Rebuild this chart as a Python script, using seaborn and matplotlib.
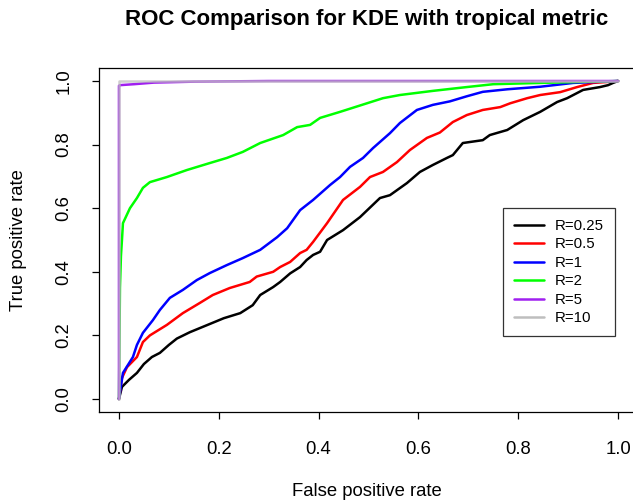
import numpy as np
import pandas as pd
import matplotlib
matplotlib.use("Agg")
import matplotlib.pyplot as plt
from matplotlib.lines import Line2D
import seaborn as sns

# ROC curves (false positive rate, true positive rate) for each bandwidth R
labels = ["R=0.25", "R=0.5", "R=1", "R=2", "R=5", "R=10"]
colors = ["#000000", "#FF0000", "#0000FF", "#00FF00", "#A020F0", "#BEBEBE"]

fpr_025 = [0.0, 0.006, 0.02, 0.036, 0.05, 0.066, 0.082, 0.1, 0.116, 0.142, 0.176, 0.21,
           0.243, 0.268, 0.283, 0.309, 0.323, 0.343, 0.363, 0.376, 0.389, 0.403, 0.417,
           0.449, 0.483, 0.523, 0.543, 0.577, 0.603, 0.629, 0.657, 0.669, 0.689, 0.729,
           0.743, 0.778, 0.81, 0.844, 0.878, 0.898, 0.93, 0.964, 0.98, 0.99, 1.0]
tpr_025 = [0.0, 0.038, 0.06, 0.082, 0.11, 0.132, 0.145, 0.17, 0.19, 0.21, 0.232, 0.254,
           0.27, 0.295, 0.327, 0.352, 0.368, 0.395, 0.415, 0.437, 0.453, 0.463, 0.5,
           0.531, 0.572, 0.632, 0.641, 0.679, 0.714, 0.736, 0.758, 0.767, 0.805, 0.814,
           0.83, 0.846, 0.877, 0.903, 0.934, 0.946, 0.972, 0.981, 0.987, 0.994, 1.0]

fpr_05 = [0.0, 0.006, 0.016, 0.036, 0.048, 0.062, 0.096, 0.128, 0.162, 0.188, 0.222,
          0.262, 0.276, 0.309, 0.323, 0.343, 0.363, 0.376, 0.389, 0.417, 0.449, 0.483,
          0.503, 0.529, 0.557, 0.583, 0.617, 0.643, 0.669, 0.697, 0.729, 0.764, 0.784,
          0.818, 0.844, 0.884, 0.918, 0.95, 0.978, 1.0]
tpr_05 = [0.0, 0.066, 0.1, 0.132, 0.179, 0.2, 0.233, 0.27, 0.302, 0.327, 0.349,
          0.368, 0.385, 0.4, 0.415, 0.431, 0.459, 0.469, 0.494, 0.553, 0.626, 0.667,
          0.698, 0.714, 0.745, 0.783, 0.821, 0.838, 0.871, 0.893, 0.909, 0.918, 0.93,
          0.946, 0.956, 0.965, 0.981, 0.994, 0.997, 1.0]

fpr_1 = [0.0, 0.008, 0.028, 0.036, 0.048, 0.068, 0.082, 0.102, 0.128, 0.156, 0.182,
         0.216, 0.248, 0.283, 0.317, 0.337, 0.363, 0.389, 0.423, 0.443, 0.463, 0.489,
         0.509, 0.543, 0.563, 0.597, 0.629, 0.663, 0.697, 0.729, 0.778, 0.844, 0.91, 1.0]
tpr_1 = [0.0, 0.082, 0.132, 0.17, 0.208, 0.248, 0.28, 0.318, 0.343, 0.374, 0.396,
         0.421, 0.443, 0.469, 0.509, 0.537, 0.594, 0.626, 0.673, 0.698, 0.73, 0.758,
         0.789, 0.836, 0.868, 0.909, 0.925, 0.936, 0.952, 0.966, 0.974, 0.982, 0.994, 1.0]

fpr_2 = [0.0, 0.002, 0.004, 0.006, 0.008, 0.022, 0.036, 0.048, 0.062, 0.096, 0.136,
         0.182, 0.216, 0.248, 0.283, 0.329, 0.357, 0.383, 0.403, 0.443, 0.497, 0.529,
         0.563, 0.629, 0.697, 0.75, 0.844, 1.0]
tpr_2 = [0.0, 0.35, 0.45, 0.5, 0.553, 0.6, 0.632, 0.664, 0.682, 0.698, 0.72,
         0.742, 0.758, 0.777, 0.805, 0.83, 0.855, 0.862, 0.884, 0.903, 0.93, 0.946,
         0.956, 0.969, 0.981, 0.99, 0.994, 1.0]

fpr_5 = [0.0, 0.0, 0.002, 0.03, 0.07, 0.15, 0.3, 1.0]
tpr_5 = [0.0, 0.985, 0.987, 0.99, 0.995, 0.998, 1.0, 1.0]

fpr_10 = [0.0, 0.0, 1.0]
tpr_10 = [0.0, 1.0, 1.0]

curves = [(fpr_025, tpr_025), (fpr_05, tpr_05), (fpr_1, tpr_1),
          (fpr_2, tpr_2), (fpr_5, tpr_5), (fpr_10, tpr_10)]

frames = []
for lab, (fx, ty) in zip(labels, curves):
    frames.append(pd.DataFrame({"fpr": fx, "tpr": ty, "R": lab,
                                "order": np.arange(len(fx))}))
df = pd.concat(frames, ignore_index=True)

sns.set_style("white")
plt.rcParams["font.family"] = ["Liberation Sans", "DejaVu Sans"]
plt.rcParams.update({"text.color": "black", "axes.labelcolor": "black",
                     "xtick.color": "black", "ytick.color": "black"})

W, H = 633, 501
fig = plt.figure(figsize=(W / 100, H / 100), dpi=100)
ax = fig.add_axes([99 / W, (H - 411.7) / H, (638 - 99) / W, (411.7 - 68.3) / H])

for lab, col in zip(labels, colors):
    sub = df[df["R"] == lab]
    sns.lineplot(data=sub, x="fpr", y="tpr", sort=False, estimator=None,
                 color=col, lw=1.8, ax=ax, legend=False,
                 alpha=0.75 if lab == "R=10" else 1.0, zorder=3)

ax.set_xlim(-0.04, 1.04)
ax.set_ylim(-0.04, 1.04)
ticks = [0.0, 0.2, 0.4, 0.6, 0.8, 1.0]
ax.set_xticks(ticks)
ax.set_yticks(ticks)
ax.set_xticklabels([f"{t:.1f}" for t in ticks], fontsize=13.3, color="black")
ax.set_yticklabels([f"{t:.1f}" for t in ticks], fontsize=13.3, rotation=90,
                   va="center", color="black")
ax.tick_params(axis="both", direction="out", length=5.2, width=0.9, color="black",
               labelcolor="black", bottom=True, left=True)
ax.tick_params(axis="x", pad=16)
ax.tick_params(axis="y", pad=14)
ax.set_xlabel("")
ax.set_ylabel("")
for s in ax.spines.values():
    s.set_visible(True)
    s.set_color("black")
    s.set_linewidth(0.9)

fig.text(367 / W, 1 - 20 / H, "ROC Comparison for KDE with tropical metric",
         ha="center", va="center", fontsize=16, fontweight="bold", color="black")
fig.text(367 / W, 1 - 492 / H, "False positive rate", ha="center", va="center",
         fontsize=13.3, color="black")
fig.text(19 / W, 1 - 240 / H, "True positive rate", ha="center", va="center",
         fontsize=13.3, rotation=90, color="black")

handles = [Line2D([0], [0], color=c, lw=1.8) for c in colors]
leg = ax.legend(handles, labels, loc="upper right",
                bbox_to_anchor=(615 / W, 1 - 208 / H), bbox_transform=fig.transFigure,
                fontsize=10.8, frameon=True, fancybox=False, edgecolor="black",
                handlelength=2.0, handletextpad=0.75, labelspacing=0.3,
                borderpad=0.72, borderaxespad=0)
leg.get_frame().set_linewidth(0.9)
for t in leg.get_texts():
    t.set_color("black")

fig.savefig("out.png", dpi=100)
